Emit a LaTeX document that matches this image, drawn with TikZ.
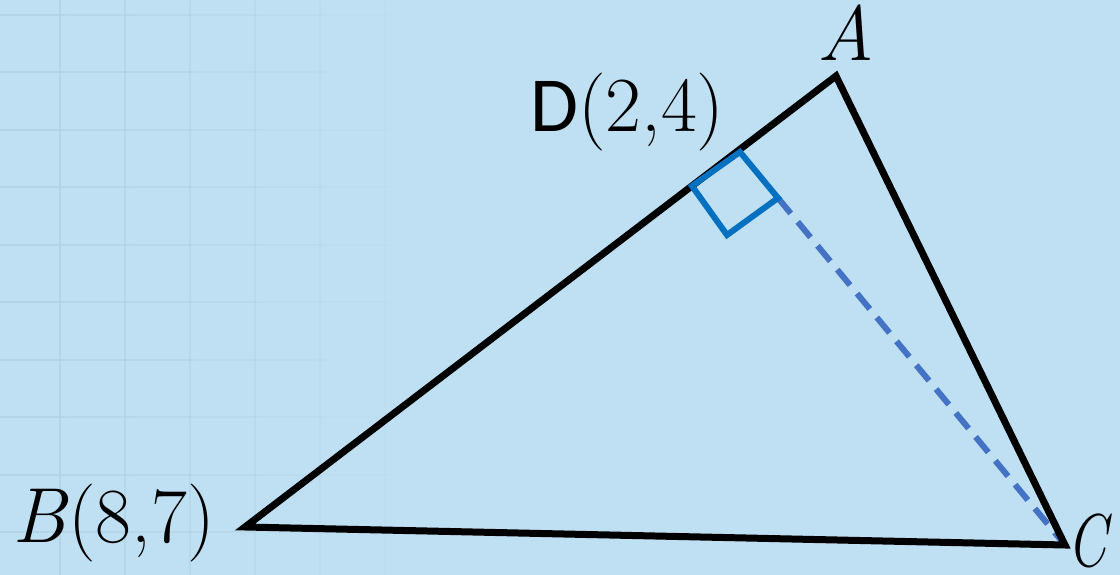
\documentclass[tikz,border=0pt]{standalone}
\usepackage{fontspec}
\newfontfamily\calfont{Carlito}
\definecolor{bgblue}{RGB}{191,224,242}
\definecolor{gridblue}{RGB}{174,208,230}
\definecolor{sqblue}{RGB}{0,112,192}
\definecolor{dashblue}{RGB}{68,114,196}
\tikzset{
  tri/.style={line width=7pt, line join=miter, black},
  sq/.style={line width=6pt, sqblue, line join=miter},
  alt/.style={line width=6pt, dashblue, dash pattern=on 20pt off 11pt},
  lbl/.style={inner sep=0pt, font=\fontsize{78}{86}\selectfont},
  gridln/.style={line width=2.5pt, gridblue}
}
\begin{document}
\begin{tikzpicture}[x=1pt,y=-1pt]
\useasboundingbox (0,0) rectangle (1120,575);
\fill[bgblue] (0,0) rectangle (1120,575);
% faint grid
\foreach \x/\o in {60/0.7,125/0.55,190/0.45,255/0.35,320/0.25,385/0.12}
  \draw[gridln, opacity=\o] (\x,0) -- (\x,575);
\foreach \y in {15,72,130,187,245,302,360,417,475,532}{
  \foreach \a/\b/\o in {0/65/0.7,65/130/0.55,130/195/0.45,195/260/0.35,260/325/0.22,325/390/0.1}
    \draw[gridln, opacity=\o] (\a,\y) -- (\b,\y);
}
% vertices
\coordinate (A) at (836,76);
\coordinate (B) at (245,527);
\coordinate (C) at (1065,545);
\coordinate (s1) at (692,186);
\coordinate (s2) at (740,152);
\coordinate (s3) at (778,198);
\coordinate (s4) at (727,235);
% altitude
\draw[alt] (s3) -- (C);
% triangle
\draw[tri] (A) -- (B) -- (C) -- cycle;
% right angle mark
\draw[sq] (s1) -- (s2) -- (s3) -- (s4) -- cycle;
% labels
\node[lbl, anchor=base] (lA) at (846,61) {\itshape A};
\node[lbl, anchor=base west] (lB) at (12,542) {\textit{B}(8,7)};
\node[lbl, anchor=base west] (lC) at (1067,566) {\scalebox{0.72}[0.96]{\itshape C}};
\node[lbl, anchor=base west] (lD) at (530,132) {{\calfont D}(2,4)};
\end{tikzpicture}
\end{document}
